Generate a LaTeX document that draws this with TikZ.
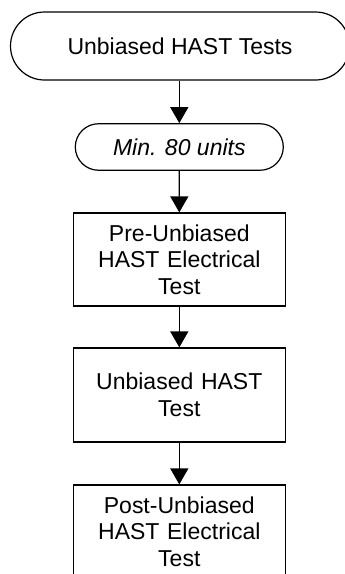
\documentclass[tikz,border=0pt]{standalone}
\usepackage{fontspec}
\setmainfont{Liberation Sans}
\usetikzlibrary{shapes.misc,arrows.meta}
\tikzset{
  base/.style={draw=black, line width=1.2pt, align=center, inner sep=2pt,
    font=\fontsize{23}{26.5}\selectfont},
  term/.style={base, rounded rectangle},
  procbox/.style={base, rectangle, minimum width=212pt, minimum height=93pt, text width=200pt},
  link/.style={line width=1.2pt, -{Triangle[length=16pt,width=18pt]}}
}
\begin{document}
\begin{tikzpicture}[x=1pt,y=-1pt]
\useasboundingbox (0,0) rectangle (345,574);
\clip (0,0) rectangle (345,574);
\node[term, minimum width=343pt, minimum height=68pt] (start) at (180,46) {Unbiased HAST Tests};
\node[term, minimum width=212pt, minimum height=46.5pt, font=\fontsize{23}{26.5}\selectfont\itshape] (min) at (179.3,147) {Min. 80 units};
\node[procbox] (pre) at (179.3,259.5) {Pre-Unbiased\\HAST Electrical\\Test};
\node[procbox, minimum height=94pt] (hast) at (179.3,395) {Unbiased HAST\\Test};
\node[procbox] (post) at (179.3,531.5) {Post-Unbiased\\HAST Electrical\\Test};
\draw[link] (start.south -| min.north) -- (min.north);
\draw[link] (min) -- (pre);
\draw[link] (pre) -- (hast);
\draw[link] (hast) -- (post);
\end{tikzpicture}
\end{document}
